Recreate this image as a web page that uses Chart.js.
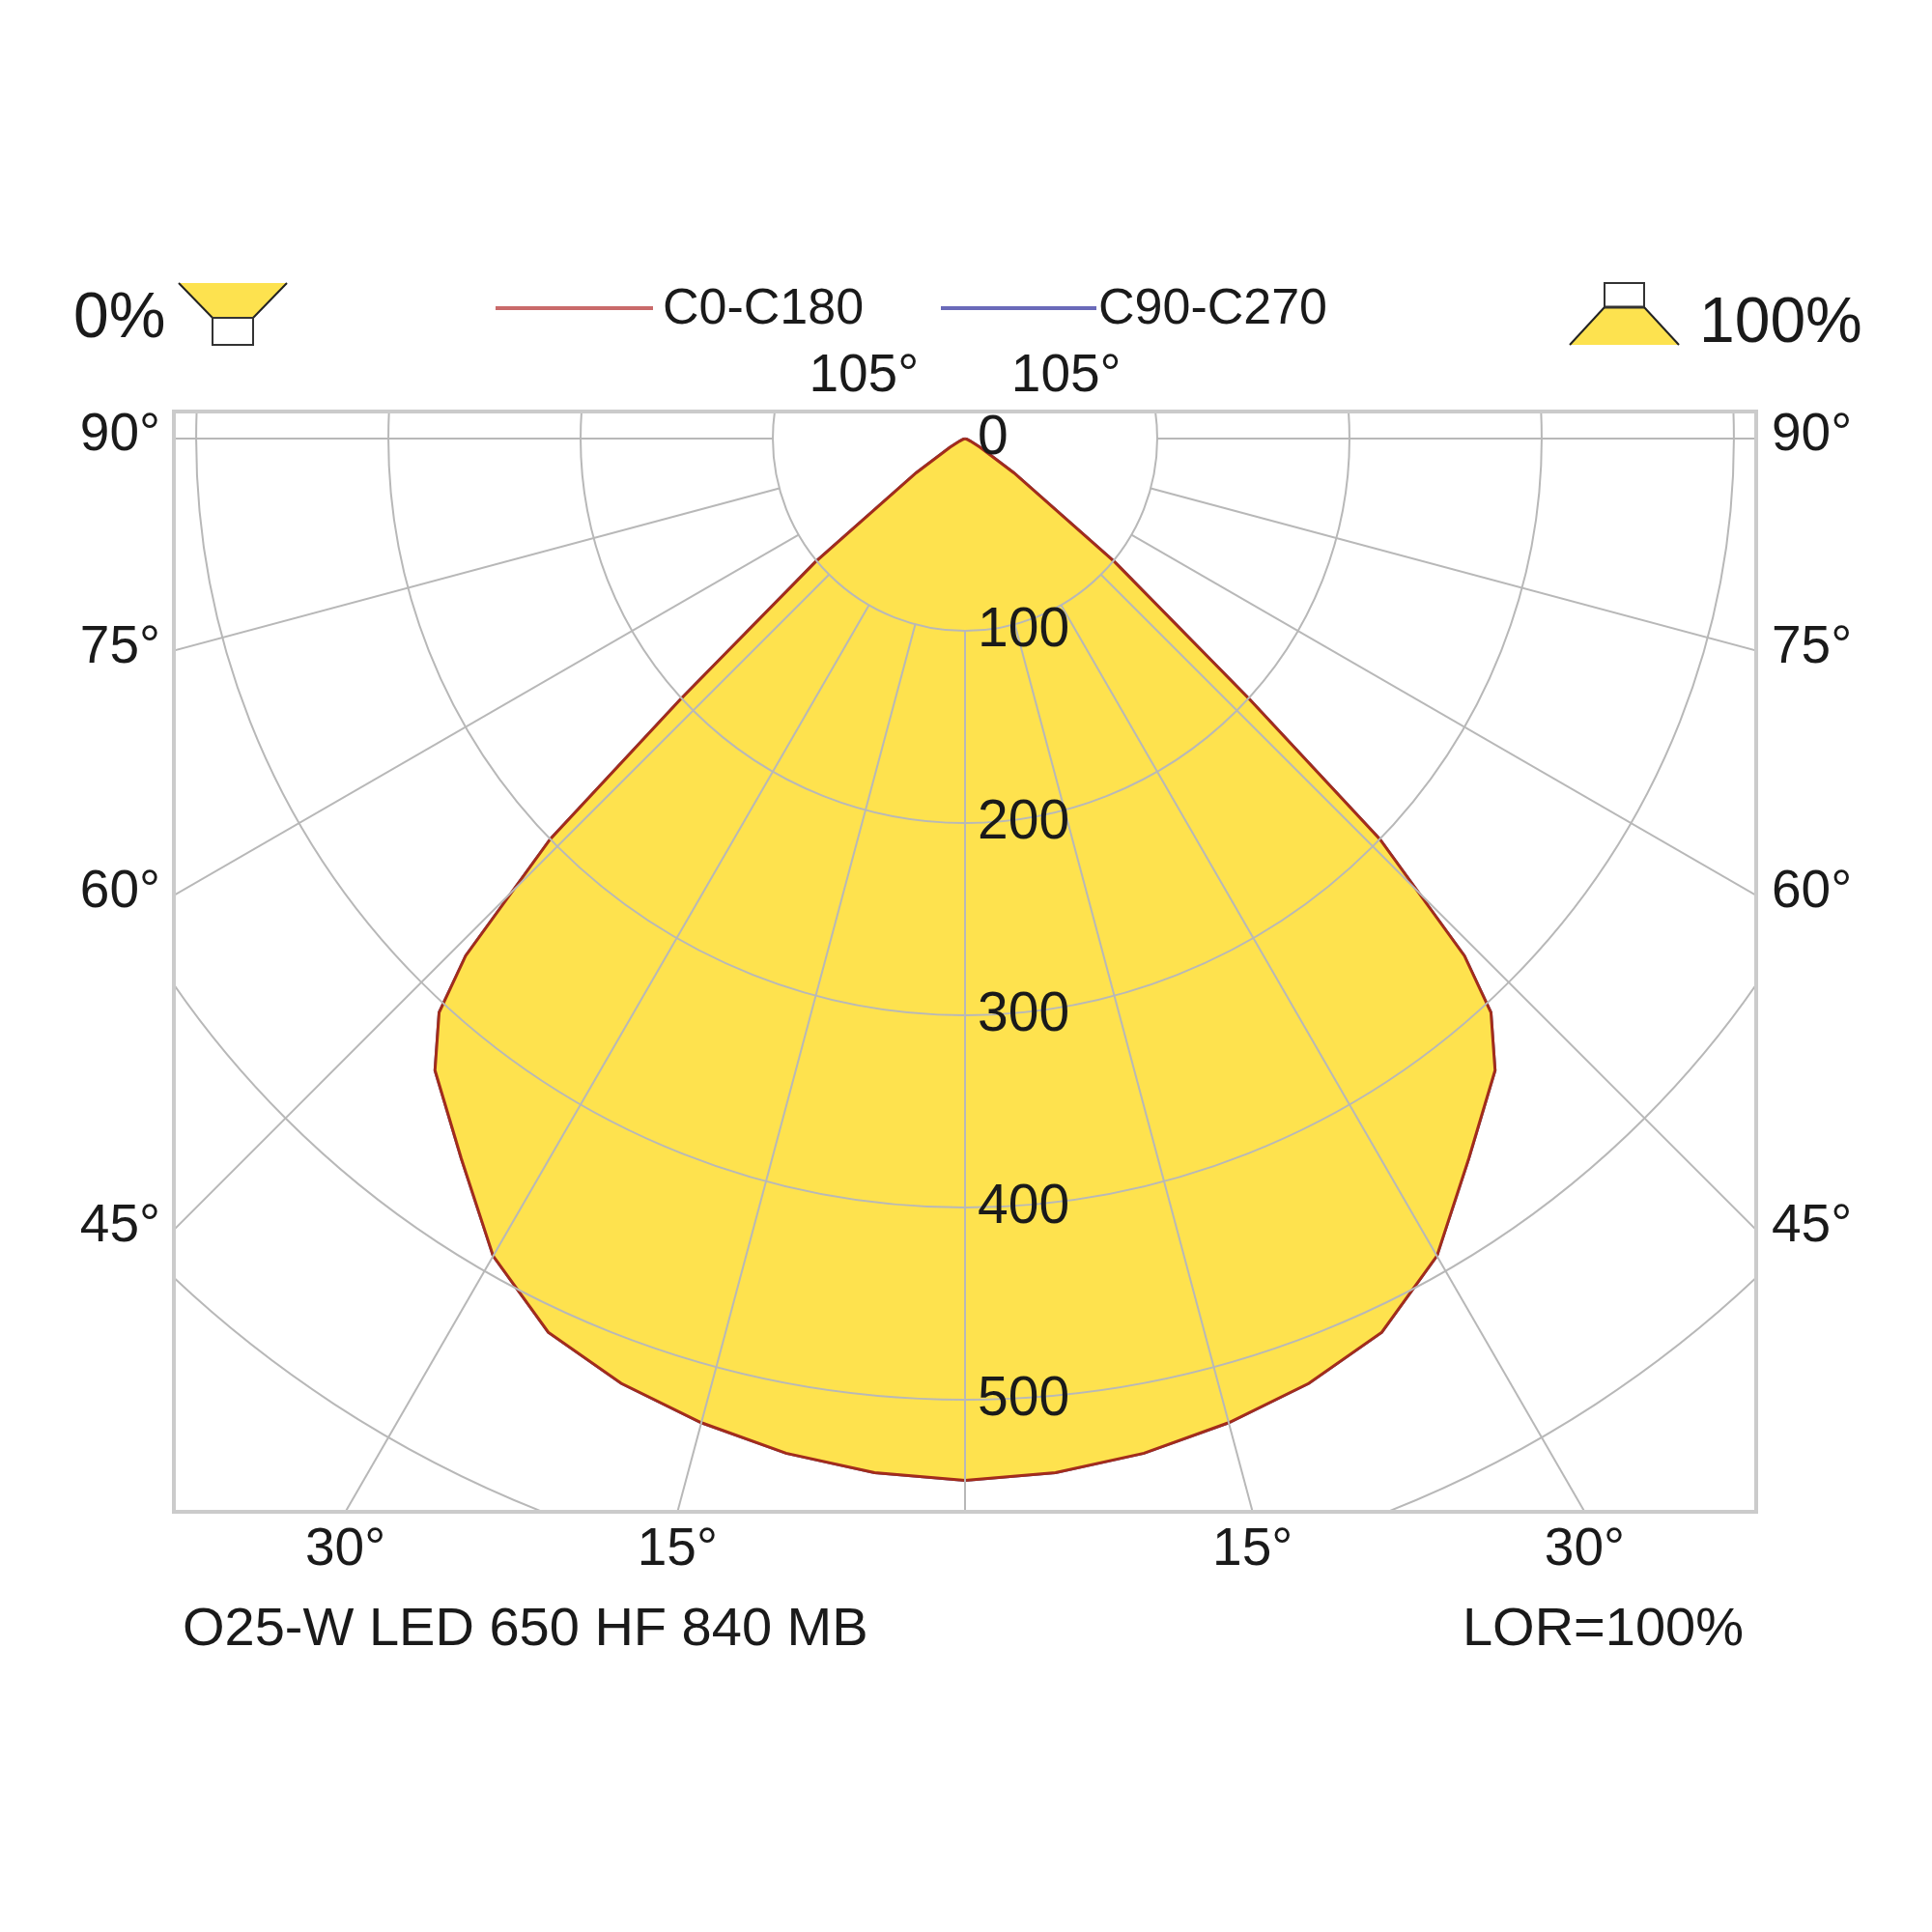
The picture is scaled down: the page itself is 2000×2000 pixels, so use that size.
<!DOCTYPE html>
<html lang="nl">
<head>
<meta charset="utf-8">
<title>Lichtverdeling O25-W LED 650 HF 840 MB</title>
<script src="https://cdn.jsdelivr.net/npm/chart.js@4.4.1/dist/chart.umd.min.js"></script>
<style>
  html, body { margin: 0; background: #fff; }
  #blad { position: relative; width: 2000px; height: 2000px; font-family: 'Liberation Sans', Arial, sans-serif; color: #1a1a1a; }
  #blad canvas, #blad svg { position: absolute; left: 0; top: 0; }
  .tekst { position: absolute; line-height: 1; white-space: nowrap; transform: translateY(-50%); }
  .lijn { position: absolute; height: 4px; }
</style>
</head>
<body>
<div id="blad">
  <canvas id="grafiek" width="2000" height="2000"></canvas>
  <svg width="2000" height="2000">
    <polygon points="185,293 297,293 262,329 220,329" fill="#fde24f" />
    <line x1="185" y1="293" x2="220" y2="329" stroke="#222" stroke-width="2" />
    <line x1="297" y1="293" x2="262" y2="329" stroke="#222" stroke-width="2" />
    <rect x="220" y="329" width="42" height="28" fill="#fff" stroke="#333" stroke-width="2" />
    <rect x="1661" y="293" width="41" height="25" fill="#fff" stroke="#333" stroke-width="2" />
    <polygon points="1661,318 1702,318 1738,357 1625,357" fill="#fde24f" />
    <line x1="1661" y1="318" x2="1625" y2="357" stroke="#222" stroke-width="2" />
    <line x1="1702" y1="318" x2="1738" y2="357" stroke="#222" stroke-width="2" />
    <line x1="1661" y1="318" x2="1702" y2="318" stroke="#333" stroke-width="3" />
  </svg>
  <div class="tekst" style="left:76px;top:326px;font-size:66px">0%</div>
  <div class="tekst" style="left:1759px;top:331px;font-size:66px">100%</div>
  <div class="lijn" style="left:513px;top:317px;width:163px;background:#c96a6a"></div>
  <div class="tekst" style="left:686px;top:317px;font-size:52px">C0-C180</div>
  <div class="lijn" style="left:974px;top:317px;width:161px;background:#6a6ab9"></div>
  <div class="tekst" style="left:1137px;top:317px;font-size:52px">C90-C270</div>
  <div class="tekst" style="left:189px;top:1684px;font-size:56px">O25-W LED 650 HF 840 MB</div>
  <div class="tekst" style="right:195px;top:1684px;font-size:56px">LOR=100%</div>
</div>
<script>
// hoeken vanaf nadir (graden) en lichtsterkte (cd/klm)
const hoeken = [0, 5, 10, 15, 20, 25, 30, 35, 40, 42.5, 44, 46, 47.5, 50.5, 55, 60, 65, 70, 80, 90];
const c0c180 = [542, 540, 536, 530, 523, 513, 491, 457, 429, 405, 374, 300, 201, 101, 31, 9, 3, 1, 0, 0];
const c90c270 = [542, 540, 536, 530, 523, 513, 491, 457, 429, 405, 374, 300, 201, 101, 31, 9, 3, 1, 0, 0];

const ringen = [100, 200, 300, 400, 500, 600, 700];
const ringLabels = [0, 100, 200, 300, 400, 500];
const stralen = [-105, -90, -75, -60, -45, -30, -15, 0, 15, 30, 45, 60, 75, 90, 105];
const hoekLabels = [-105, -90, -75, -60, -45, -30, -15, 15, 30, 45, 60, 75, 90, 105];
const xBereik = [-411.6, 411.6];
const yBereik = [-558.3, 14.1];

const lettertype = '"Liberation Sans", Arial, sans-serif';

function punt(hoek, waarde) {
  const rad = hoek * Math.PI / 180;
  return { x: waarde * Math.sin(rad), y: -waarde * Math.cos(rad) };
}

function polairePunten(waarden) {
  const punten = [];
  for (let i = hoeken.length - 1; i >= 0; i--) punten.push(punt(-hoeken[i], waarden[i]));
  for (let i = 1; i < hoeken.length; i++) punten.push(punt(hoeken[i], waarden[i]));
  return punten;
}

const raster = {
  id: 'raster',
  afterDatasetsDraw(chart) {
    const { ctx, chartArea: vlak, scales: { x, y } } = chart;
    const cx = x.getPixelForValue(0);
    const cy = y.getPixelForValue(0);
    const straal = waarde => x.getPixelForValue(waarde) - cx;

    ctx.save();
    ctx.beginPath();
    ctx.rect(vlak.left, vlak.top, vlak.width, vlak.height);
    ctx.clip();
    ctx.strokeStyle = '#b8b8b8';
    ctx.lineWidth = 2;
    ringen.forEach(r => {
      ctx.beginPath();
      ctx.arc(cx, cy, straal(r), 0, Math.PI * 2);
      ctx.stroke();
    });
    stralen.forEach(h => {
      const rad = h * Math.PI / 180;
      const r0 = straal(100);
      const r1 = straal(2000);
      ctx.beginPath();
      ctx.moveTo(cx + r0 * Math.sin(rad), cy + r0 * Math.cos(rad));
      ctx.lineTo(cx + r1 * Math.sin(rad), cy + r1 * Math.cos(rad));
      ctx.stroke();
    });
    ctx.restore();

    ctx.save();
    ctx.strokeStyle = '#cbcbcb';
    ctx.lineWidth = 4;
    ctx.strokeRect(vlak.left, vlak.top, vlak.width, vlak.height);

    ctx.fillStyle = '#1a1a1a';
    ctx.textBaseline = 'middle';
    ctx.font = `57px ${lettertype}`;
    ctx.textAlign = 'left';
    ringLabels.forEach(r => ctx.fillText(String(r), cx + 13, cy + straal(r)));

    ctx.font = `55px ${lettertype}`;
    hoekLabels.forEach(h => {
      const rad = h * Math.PI / 180;
      const sx = Math.sin(rad);
      const sy = Math.cos(rad);
      const tZij = sx > 0 ? (vlak.right - cx) / sx : (vlak.left - cx) / sx;
      let tRand = Infinity;
      if (sy > 1e-6) tRand = (vlak.bottom - cy) / sy;
      if (sy < -1e-6) tRand = (vlak.top - cy) / sy;
      const tekst = `${Math.abs(h)}°`;
      if (tZij <= tRand) {
        ctx.textAlign = sx > 0 ? 'left' : 'right';
        ctx.fillText(tekst, sx > 0 ? vlak.right + 16 : vlak.left - 14, cy + tZij * sy - 3);
      } else {
        ctx.textAlign = 'center';
        ctx.fillText(tekst, cx + tRand * sx, sy > 0 ? vlak.bottom + 40 : vlak.top - 36);
      }
    });
    ctx.restore();
  },
};

new Chart(document.getElementById('grafiek'), {
  type: 'scatter',
  data: {
    datasets: [
      {
        label: 'C0-C180',
        data: polairePunten(c0c180),
        showLine: true,
        fill: 'shape',
        backgroundColor: '#fee24e',
        borderColor: '#a32c1b',
        borderWidth: 3,
        pointRadius: 0,
        tension: 0,
      },
      {
        label: 'C90-C270',
        data: polairePunten(c90c270),
        showLine: true,
        fill: false,
        borderColor: '#5a5aa8',
        borderWidth: 3,
        pointRadius: 0,
        tension: 0,
      },
    ],
  },
  options: {
    responsive: false,
    devicePixelRatio: 1,
    animation: false,
    layout: { padding: { left: 180, right: 182, top: 426, bottom: 435 } },
    plugins: { legend: { display: false }, tooltip: { enabled: false } },
    scales: {
      x: { type: 'linear', min: xBereik[0], max: xBereik[1], display: false },
      y: { type: 'linear', min: yBereik[0], max: yBereik[1], display: false },
    },
  },
  plugins: [raster],
});
</script>
</body>
</html>
